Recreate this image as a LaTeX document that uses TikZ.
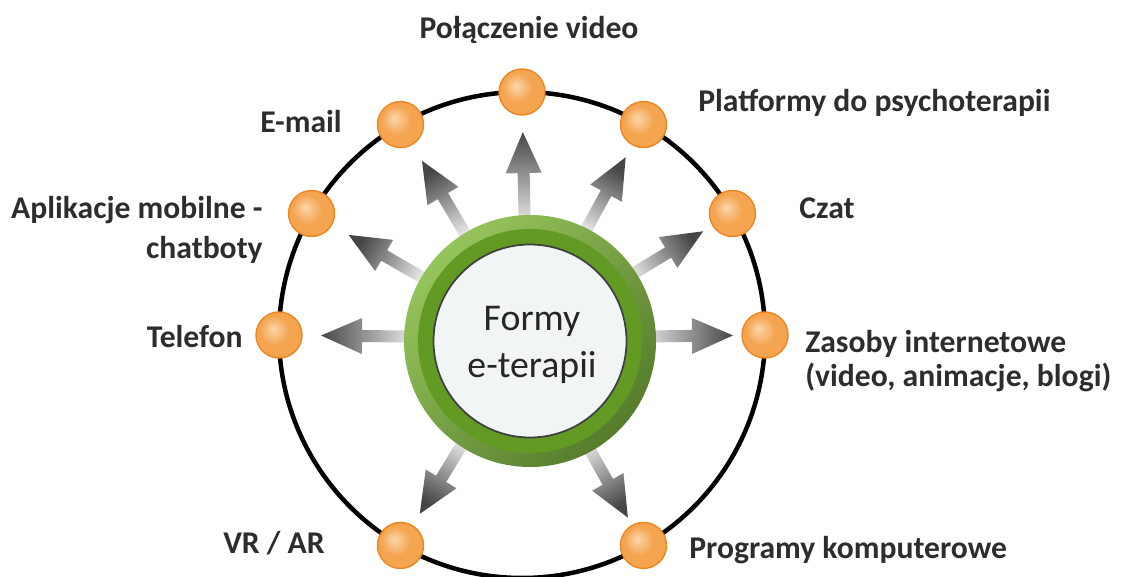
\documentclass[tikz,border=0pt]{standalone}
\usepackage{fontspec}
\setmainfont{Carlito}
\usetikzlibrary{calc}
\definecolor{beadlight}{RGB}{251,214,172}
\definecolor{beadmid}{RGB}{245,164,80}
\definecolor{beadedge}{RGB}{236,134,34}
\definecolor{ringlight}{RGB}{150,196,92}
\definecolor{ringdark}{RGB}{86,124,44}
\definecolor{ringmid}{RGB}{98,154,36}
\definecolor{lenslight}{RGB}{242,245,245}
\definecolor{lensedge}{RGB}{165,176,176}
\definecolor{spokelight}{RGB}{240,240,240}
\definecolor{spokedark}{RGB}{70,70,70}
\definecolor{tagtext}{RGB}{45,45,45}
\pgfdeclareradialshading{bead}{\pgfpoint{-7bp}{7bp}}{color(0bp)=(beadlight); color(16bp)=(beadmid); color(42bp)=(beadmid); color(50bp)=(beadedge)}
\pgfdeclareradialshading{lens}{\pgfpoint{0bp}{4bp}}{color(0bp)=(lenslight); color(28bp)=(lenslight); color(46bp)=(lensedge); color(50bp)=(lensedge)}
\tikzstyle{dot}=[circle, minimum size=0.92cm, inner sep=0pt, draw=beadedge, line width=0.8pt, shade, shading=bead]
\tikzset{tagl/.style={anchor=east, align=right, inner sep=0pt, text=tagtext, font=\bfseries\fontsize{18}{22.6}\selectfont}}
\tikzset{tagr/.style={anchor=west, align=left, inner sep=0pt, text=tagtext, font=\bfseries\fontsize{18}{19}\selectfont}}

\begin{document}
\begin{tikzpicture}
  \useasboundingbox (0,0) rectangle (22.44,11.52);
  \coordinate (orbit) at (10.44,4.82);
  \coordinate (hub) at (10.54,4.76);
  \coordinate (core) at (10.6,4.7);

  \draw[line width=0.09cm] (orbit) circle (4.86);

  \draw ($(orbit)+(90:4.86)$) node[dot] (Video) {};
  \draw ($(orbit)+(60:4.86)$) node[dot] (Platform) {};
  \draw ($(orbit)+(30:4.86)$) node[dot] (Chat) {};
  \draw ($(orbit)+(0:4.86)$) node[dot] (Web) {};
  \draw ($(orbit)+(-60:4.86)$) node[dot] (Software) {};
  \draw ($(orbit)+(-120:4.86)$) node[dot] (VRAR) {};
  \draw ($(orbit)+(180:4.86)$) node[dot] (Phone) {};
  \draw ($(orbit)+(150:4.86)$) node[dot] (Apps) {};
  \draw ($(orbit)+(120:4.86)$) node[dot] (Mail) {};

  %% shaded arrows from the hub out to the dots
  \foreach \n/\a in {Video/90, Platform/60, Chat/30, Web/0, Software/-60, VRAR/-120, Phone/180, Apps/150, Mail/120} {
    \pgfmathsetmacro\sa{\a-90}
    \coordinate (t) at ($(hub)!2.2cm!(\n)$);
    \coordinate (b) at ($(hub)!3.3cm!(\n)$);
    \coordinate (p) at ($(hub)!4.12cm!(\n)$);
    \shade[top color=spokedark, bottom color=spokelight, shading angle=\sa]
      ($(t)!0.12cm!90:(\n)$) -- ($(b)!0.12cm!90:(\n)$) -- ($(b)!0.36cm!90:(\n)$) -- (p)
      -- ($(b)!0.36cm!-90:(\n)$) -- ($(b)!0.12cm!-90:(\n)$) -- ($(t)!0.12cm!-90:(\n)$) -- cycle;
  }

  %% centre button
  \shade[top color=ringlight, bottom color=ringdark, shading angle=45] (core) circle (2.52);
  \fill[ringmid] (core) circle (2.24);
  \shadedraw[shading=lens, draw=black!75, line width=1pt] (core) circle (1.93);
  \draw (10.64,4.62) node[align=center, text=black!85, font=\fontsize{21.5}{27}\selectfont] (Title) {Formy\\e-terapii};

  %% labels
  \draw (10.58,10.92) node[tagr, anchor=center] (VideoText) {Połączenie video};
  \draw (13.96,9.46) node[tagr] (PlatformText) {Platformy do psychoterapii};
  \draw (15.98,7.36) node[tagr] (ChatText) {Czat};
  \draw (16.1,4.3) node[tagr] (WebText) {Zasoby internetowe\\(video, animacje, blogi)};
  \draw (13.78,0.52) node[tagr] (SoftwareText) {Programy komputerowe};
  \draw (6.5,0.66) node[tagl] (VRARText) {VR / AR};
  \draw (4.86,4.78) node[tagl] (PhoneText) {Telefon};
  \draw (5.26,6.92) node[tagl] (AppsText) {Aplikacje mobilne -\\chatboty};
  \draw (6.84,9.08) node[tagl] (MailText) {E-mail};
\end{tikzpicture}
\end{document}
